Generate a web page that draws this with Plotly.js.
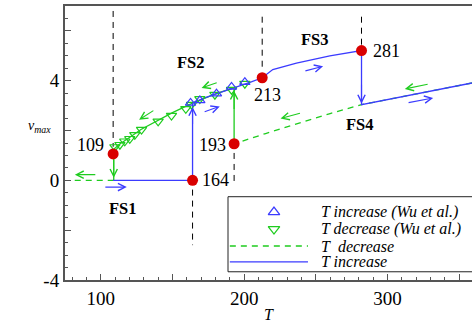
<!DOCTYPE html>
<html><head><meta charset="utf-8">
<script src="https://cdn.plot.ly/plotly-3.0.1.min.js"></script>
<style>html,body{margin:0;padding:0;overflow:hidden;background:#fff}#chart{width:472px;height:323px}</style>
</head><body><div id="chart"></div>
<script>
// ---- data ----
const xTickVals = [100,150,200,250,300,350];
const xTickText = ['100','','200','','300',''];
const yTickVals = [-4,-2,0,2,4,6];
const yTickText = ['-4','','0','','4',''];

// T increase (solid blue path)
const incT = [108.6,164,164,172,180,193,205,212.6,220,236.5,259.8,281.9,281.9,359];
const incV = [0,0,3.1,3.3,3.46,3.7,3.95,4.12,4.45,4.71,5.0,5.21,3.04,3.91];
// T decrease (dashed green)
const decT = [359,281.9,260,238,215,193,null,109,80];
const decV = [3.91,3.04,2.68,2.3,1.88,1.47,null,0,0];
// T decrease (solid green jumps / FS2 branch)
const decSolidT = [193,193,180,164,150,140,128,120,113,109,109];
const decSolidV = [1.47,3.72,3.47,3.1,2.72,2.42,2.04,1.72,1.45,1.25,0];
// Wu et al.
const wuIncT = [162.6,169.1,180.7,191.2,200.5];
const wuIncV = [3.11,3.21,3.48,3.75,3.94];
const wuDecT = [109.8,113.3,116.7,120.2,123.7,128.4,140.0,149.3,159.3,163.3,169.1,179.6,191.2,200.5];
const wuDecV = [1.34,1.43,1.57,1.67,1.83,2.04,2.37,2.6,2.87,3.04,3.27,3.44,3.64,3.88];
// transition points
const critT = [108.6,164,193,212.6,281.9];
const critV = [1.06,0,1.47,4.12,5.21];
const critLbl = ['109','164','193','213','281'];
// dashed black guide lines [T, v0, v1]
const guideT = [108.6,164,193,212.6,281.9];
const guideV0 = [6.8,-0.37,1.1,6.57,6.57];
const guideV1 = [1.35,-2.6,-0.2,4.45,5.45];
// direction arrows: tail (T,v) -> head (T,v), colour
const arrTailT = [97.2,102.1,137.7,181.9,171.4,241.7,240,329.1,313.7,164,193,281.9,109];
const arrTailV = [0.23,-0.27,2.84,3.94,2.73,4.38,2.71,3.87,3.11,2.2,2.8,3.9,0.9];
const arrHeadT = [81.9,118.1,126.7,170.3,183,255.1,225.4,312.1,331.9,164,193,281.9,109];
const arrHeadV = [0.23,-0.27,2.43,3.71,2.97,4.58,2.48,3.67,3.31,2.95,3.6,3.08,0.1];
const arrCol = ['g','b','g','g','b','b','g','g','b','b','g','b','g'];
// region labels
const fsLbl = ['FS1','FS2','FS3','FS4'];
const fsT = [115.4,162.7,249.2,280.9];
const fsV = [-1.14,4.74,5.65,2.24];
// legend entries
const legText = ['T increase (Wu et al.)','T decrease (Wu et al.)','T\u00a0 decrease','T increase'];

const BLUE = '#3b3bff', GREEN = '#1fcc1f', RED = '#d90000';
const serif = 'Liberation Serif, Times New Roman, serif';

// legend layout (paper-fraction positions of the legend box)
const LEG = {x0:0.4005,x1:1.05,y0:0.030,y1:0.304,rows:[0.248,0.186,0.124,0.066],keyX0:0.405,keyX1:0.597,keyXc:0.5135,textX:0.623};

const traces = [];
const gx = [], gy = [];
guideT.forEach((t,i)=>{gx.push(t,t,null); gy.push(guideV0[i],guideV1[i],null);});
traces.push({x:gx,y:gy,mode:'lines',line:{color:'#000',width:1,dash:'6px,5px'},hoverinfo:'skip'});
traces.push({x:decT,y:decV,mode:'lines',name:legText[2],line:{color:GREEN,width:1.3,dash:'6px,5px'}});
traces.push({x:decSolidT,y:decSolidV,mode:'lines',line:{color:GREEN,width:1.3}});
traces.push({x:incT,y:incV,mode:'lines',name:legText[3],line:{color:BLUE,width:1.3}});
traces.push({x:wuDecT,y:wuDecV,mode:'markers',name:legText[1],marker:{symbol:'triangle-down-open',size:9,color:GREEN,line:{width:1.2}}});
traces.push({x:wuIncT,y:wuIncV,mode:'markers',name:legText[0],marker:{symbol:'triangle-up-open',size:9,color:BLUE,line:{width:1.2}}});
traces.push({x:critT,y:critV,mode:'markers',marker:{color:RED,size:11}});
// legend keys on an overlay axis in plot fractions
traces.push({x:[LEG.keyXc],y:[LEG.rows[0]],xaxis:'x2',yaxis:'y2',mode:'markers',marker:{symbol:'triangle-up-open',size:10,color:BLUE,line:{width:1.3}},cliponaxis:false});
traces.push({x:[LEG.keyXc],y:[LEG.rows[1]],xaxis:'x2',yaxis:'y2',mode:'markers',marker:{symbol:'triangle-down-open',size:10,color:GREEN,line:{width:1.3}},cliponaxis:false});
traces.push({x:[LEG.keyX0,LEG.keyX1],y:[LEG.rows[2],LEG.rows[2]],xaxis:'x2',yaxis:'y2',mode:'lines',line:{color:GREEN,width:1.3,dash:'6px,5px'}});
traces.push({x:[LEG.keyX0,LEG.keyX1],y:[LEG.rows[3],LEG.rows[3]],xaxis:'x2',yaxis:'y2',mode:'lines',line:{color:BLUE,width:1.3}});

const ann = [];
arrTailT.forEach((t,i)=>{
  ann.push({x:arrHeadT[i],y:arrHeadV[i],ax:t,ay:arrTailV[i],axref:'x',ayref:'y',xref:'x',yref:'y',
    text:'',showarrow:true,arrowhead:5,arrowsize:1.3,arrowwidth:1.1,standoff:0,
    arrowcolor: arrCol[i]==='g'?GREEN:BLUE});
});
const lblPos = [
  {x:103.5,y:1.43,xanchor:'right'},
  {x:169.1,y:0,xanchor:'left'},
  {x:188.8,y:1.43,xanchor:'right'},
  {x:205.2,y:3.44,xanchor:'left'},
  {x:288.2,y:5.18,xanchor:'left'}];
critLbl.forEach((s,i)=>{
  ann.push(Object.assign({text:s,showarrow:false,xref:'x',yref:'y',yanchor:'middle',font:{family:serif,size:18,color:'#000'}},lblPos[i]));
});
fsLbl.forEach((s,i)=>{
  ann.push({text:'<b>'+s+'</b>',x:fsT[i],y:fsV[i],xref:'x',yref:'y',showarrow:false,font:{family:serif,size:16.5,color:'#000'}});
});
ann.push({text:'<i>v</i><sub><i>max</i></sub>',xref:'paper',yref:'y',x:-0.095,y:2.15,showarrow:false,font:{family:serif,size:14,color:'#000'}});
legText.forEach((s,i)=>{
  ann.push({text:'<i>'+s+'</i>',xref:'paper',yref:'paper',x:LEG.textX,y:LEG.rows[i],xanchor:'left',yanchor:'middle',
    showarrow:false,font:{family:serif,size:16,color:'#000'}});
});

const axCommon = {showline:true,linecolor:'#555',linewidth:2,ticks:'inside',tickcolor:'#555',tickwidth:1,ticklen:6,
  showgrid:false,zeroline:false,tickmode:'array',tickfont:{family:serif,size:19,color:'#000'}};

const layout = {
  width:472,height:323,margin:{l:65,r:0,t:6,b:43},
  paper_bgcolor:'#fff',plot_bgcolor:'#fff',showlegend:false,
  xaxis:Object.assign({},axCommon,{range:[75,359],mirror:true,tickvals:xTickVals,ticktext:xTickText,
    minor:{tickmode:'linear',tick0:0,dtick:10,ticks:'inside',ticklen:3,tickcolor:'#555'},
    title:{text:'<i>T</i>',font:{family:serif,size:16,color:'#000'},standoff:6}}),
  yaxis:Object.assign({},axCommon,{range:[-4,7],tickvals:yTickVals,ticktext:yTickText,
    minor:{tickmode:'linear',tick0:0,dtick:0.5,ticks:'inside',ticklen:3,tickcolor:'#555'}}),
  xaxis2:{overlaying:'x',range:[0,1],visible:false,fixedrange:true},
  yaxis2:{overlaying:'y',range:[0,1],visible:false,fixedrange:true},
  shapes:[{type:'rect',xref:'paper',yref:'paper',x0:LEG.x0,x1:LEG.x1,y0:LEG.y0,y1:LEG.y1,
    line:{color:'#222',width:1},fillcolor:'#fff',layer:'below'}],
  annotations:ann
};
Plotly.newPlot('chart',traces,layout,{staticPlot:true,displayModeBar:false});
</script></body></html>
